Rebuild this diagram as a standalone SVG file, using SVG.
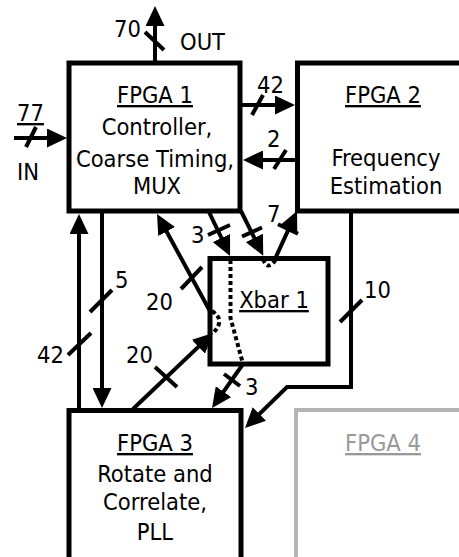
<svg xmlns="http://www.w3.org/2000/svg" width="459" height="557" viewBox="0 0 459 557">
<style>
.box{fill:#fff;stroke:#000;stroke-width:5}
.gbox{fill:#fff;stroke:#b4b4b4;stroke-width:4}
.t{font-family:"DejaVu Sans Condensed","DejaVu Sans",Verdana,sans-serif;font-stretch:condensed;font-size:23.5px;fill:#000}
.m{text-anchor:middle}
.u{text-decoration:underline}
.c{fill:none;stroke:#000;stroke-width:4}
.a{marker-end:url(#ah)}
.tk{stroke:#000;stroke-width:4;fill:none}
.dot{fill:none;stroke:#000;stroke-width:4;stroke-dasharray:4 3}
</style>
<defs>
<marker id="ah" markerUnits="userSpaceOnUse" viewBox="0 0 20 19" refX="14" refY="9.5" markerWidth="20" markerHeight="19" orient="auto">
<path d="M0,0 L20,9.5 L0,19 z" fill="#000"/>
</marker>
</defs>
<rect width="459" height="557" fill="#fff"/>

<g id="fpga1">
<rect class="box" x="69" y="63" width="171" height="148"/>
<text class="t m u" x="155" y="103">FPGA 1</text>
<text class="t m" x="157" y="135">Controller,</text>
<text class="t m" x="155" y="167">Coarse Timing,</text>
<text class="t m" x="157" y="194">MUX</text>
</g>
<g id="fpga2">
<rect class="box" x="297.5" y="63" width="200" height="148"/>
<text class="t m u" x="383" y="103">FPGA 2</text>
<text class="t m" x="386" y="166">Frequency</text>
<text class="t m" x="386" y="194">Estimation</text>
</g>
<g id="fpga3">
<rect class="box" x="69" y="410.5" width="172" height="200"/>
<text class="t m u" x="155" y="451">FPGA 3</text>
<text class="t m" x="155" y="482">Rotate and</text>
<text class="t m" x="155" y="510">Correlate,</text>
<text class="t m" x="155" y="540">PLL</text>
</g>
<g id="fpga4">
<rect class="gbox" x="296" y="410" width="200" height="200"/>
<text class="t m u" x="383" y="451" style="fill:#999">FPGA 4</text>
</g>
<g id="xbar1">
<rect class="box" x="210" y="258.5" width="118" height="105.5"/>
<text class="t m u" x="274" y="308">Xbar 1</text>
<path class="dot" d="M230.5,260 L230.5,318 L242.5,362"/>
<path class="dot" d="M263,259 Q268,272 276,259"/>
<path class="dot" d="M212,311 Q226,320 213,333"/>
</g>

<g id="connectors">
<path class="c a" d="M155,62 L155,12"/>
<path class="tk" d="M145,32 L164,50"/>
<text class="t" x="114" y="37">70</text>
<text class="t" x="180" y="50">OUT</text>

<path class="c a" d="M14,138 L61,138"/>
<path class="tk" d="M26,147 L36,127"/>
<text class="t u" x="17" y="121">77</text>
<text class="t" x="17" y="180">IN</text>

<path class="c a" d="M241,105 L289,105"/>
<path class="tk" d="M252,115 L263,95"/>
<text class="t" x="257" y="93">42</text>

<path class="c a" d="M296,160 L249,160"/>
<path class="tk" d="M274,169 L286,150"/>
<text class="t" x="267" y="147">2</text>

<path class="c a" d="M79,408 L79,220"/>
<path class="tk" d="M68,355 L91,333"/>
<text class="t" x="37" y="363">42</text>

<path class="c a" d="M102,213 L102,402"/>
<path class="tk" d="M90,312 L112,290"/>
<text class="t" x="115" y="288">5</text>

<path class="c a" d="M211,313 L159.9,219.3"/>
<path class="tk" d="M181,289 L202,267"/>
<text class="t" x="146" y="310">20</text>

<path class="c a" d="M133,409 L208.6,337.1"/>
<path class="tk" d="M155,367 L177,387"/>
<text class="t" x="126" y="363">20</text>

<path class="c a" d="M209,212 L227.5,250.6"/>
<path class="tk" d="M208,235 L230,225"/>
<text class="t" x="191" y="243">3</text>

<path class="c a" d="M241,211 L260.6,250.5"/>
<path class="tk" d="M242,236.5 L262,227.5"/>

<path class="c a" d="M275,259 L294.5,216.4"/>
<path class="tk" d="M278,224.3 L298,233.7"/>
<text class="t" x="267" y="222">7</text>

<path class="c a" d="M243,364 L215.5,403.1"/>
<path class="tk" d="M224,374 L240,386"/>
<text class="t" x="245" y="395">3</text>

<path class="c a" d="M351,211 L351,387 L287,387 L249.3,423.8"/>
<path class="tk" d="M340,322 L362,300"/>
<text class="t" x="364" y="298">10</text>
</g>
</svg>
